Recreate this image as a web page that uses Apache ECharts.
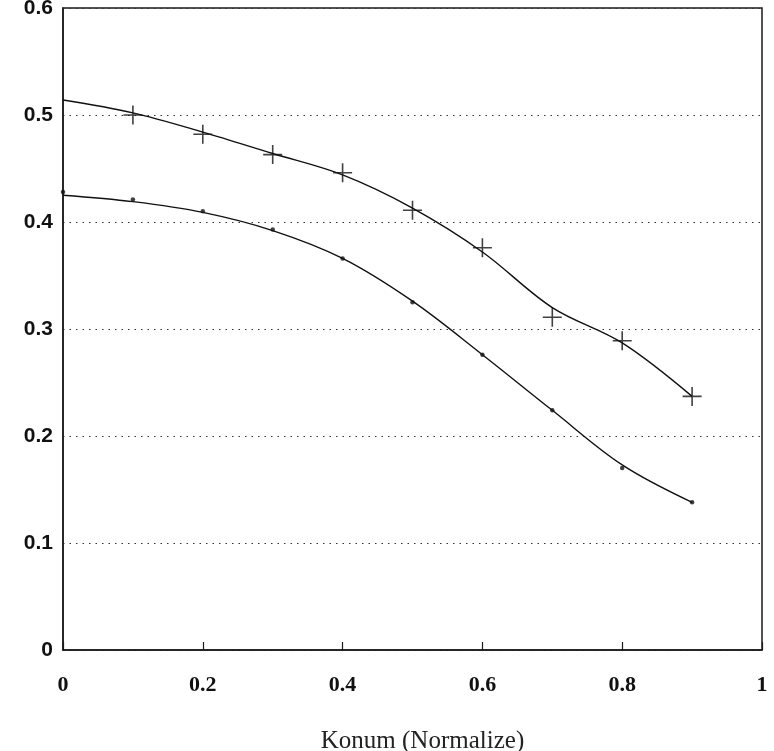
<!DOCTYPE html>
<html>
<head>
<meta charset="utf-8">
<script src="https://cdn.jsdelivr.net/npm/echarts@6/dist/echarts.min.js"></script>
<style>
html,body{margin:0;padding:0;background:#fff;}
#c{width:774px;height:751px;}
</style>
</head>
<body>
<div id="c"></div>
<script>
// Positions along the normalized axis
const curveX = [0, 0.1, 0.2, 0.3, 0.4, 0.5, 0.6, 0.7, 0.8, 0.9];
// Fitted curve (upper, "+" data)
const upperCurve = [0.514, 0.502, 0.484, 0.464, 0.444, 0.413, 0.372, 0.320, 0.287, 0.237];
// "+" markers
const upperMarkX = [0.1, 0.2, 0.3, 0.4, 0.5, 0.6, 0.7, 0.8, 0.9];
const upperMarks = [0.500, 0.482, 0.463, 0.446, 0.411, 0.376, 0.311, 0.289, 0.237];
// Fitted curve (lower, dot data)
const lowerCurve = [0.425, 0.419, 0.409, 0.392, 0.366, 0.326, 0.276, 0.224, 0.173, 0.138];
// dot markers
const lowerMarkX = [0, 0.1, 0.2, 0.3, 0.4, 0.5, 0.6, 0.7, 0.8, 0.9];
const lowerMarks = [0.428, 0.421, 0.410, 0.393, 0.366, 0.325, 0.276, 0.224, 0.170, 0.138];
// axis tick labels
const xTicks = ['0', '0.2', '0.4', '0.6', '0.8', '1'];
const yTicks = ['0', '0.1', '0.2', '0.3', '0.4', '0.5', '0.6'];
const xName = 'Konum (Normalize)';

const pair = (xs, ys) => xs.map((x, i) => [x, ys[i]]);

const chart = echarts.init(document.getElementById('c'), null, {renderer: 'canvas'});
chart.setOption({
  animation: false,
  backgroundColor: '#fff',
  grid: {left: 63, right: 12, top: 8, bottom: 101, outerBoundsMode: 'none', containLabel: false, show: true, borderColor: '#1a1a1a', borderWidth: 1.5, backgroundColor: 'transparent'},
  xAxis: {
    type: 'value', min: 0, max: 1, interval: 0.2,
    name: xName, nameLocation: 'middle', nameGap: 79,
    nameTextStyle: {fontFamily: 'Liberation Serif', fontSize: 25, color: '#222', padding: [0, 0, 0, 20]},
    axisLine: {show: true, lineStyle: {color: '#1a1a1a', width: 1.5}},
    axisTick: {show: true, inside: true, length: 8, lineStyle: {color: '#1a1a1a', width: 1.2}},
    axisLabel: {
      margin: 24, fontFamily: 'Liberation Serif', fontWeight: 'bold', fontSize: 22, color: '#111',
      formatter: v => xTicks[Math.round(v / 0.2)]
    },
    splitLine: {show: false}
  },
  yAxis: {
    type: 'value', min: 0, max: 0.6, interval: 0.1,
    axisLine: {show: true, lineStyle: {color: '#1a1a1a', width: 1.5}},
    axisTick: {show: false},
    axisLabel: {
      margin: 10, fontFamily: 'Liberation Sans', fontWeight: 'bold', fontSize: 21, color: '#111',
      formatter: v => yTicks[Math.round(v / 0.1)]
    },
    splitLine: {show: true, lineStyle: {type: [1.5, 5], color: '#333', width: 1.2}}
  },
  series: [
    {
      type: 'line', data: pair(curveX, upperCurve), smooth: 0.35,
      showSymbol: false, lineStyle: {color: '#111', width: 1.4}
    },
    {
      type: 'line', data: pair(curveX, lowerCurve), smooth: 0.35,
      showSymbol: false, lineStyle: {color: '#111', width: 1.4}
    },
    {
      type: 'scatter', data: pair(upperMarkX, upperMarks),
      symbol: 'path://M5,0 L5,10 M0,5 L10,5', symbolSize: 19,
      itemStyle: {color: 'none', borderColor: '#111', borderWidth: 1.6}
    },
    {
      type: 'scatter', data: pair(lowerMarkX, lowerMarks),
      symbol: 'circle', symbolSize: 4.5,
      itemStyle: {color: '#111'}
    }
  ]
});
</script>
</body>
</html>
